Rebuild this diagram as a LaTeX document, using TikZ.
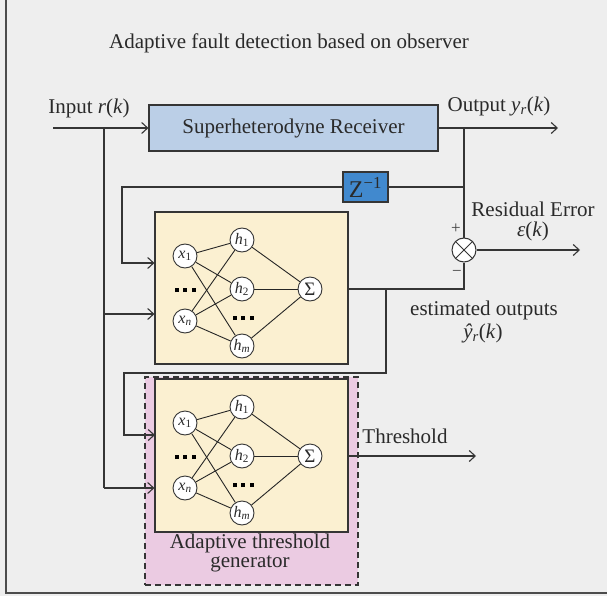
\documentclass[tikz,border=0pt]{standalone}
\usepackage{fontspec}
\setmainfont{Liberation Serif}
\usetikzlibrary{arrows.meta}
\definecolor{bg}{HTML}{EEEEEE}
\definecolor{ln}{HTML}{353535}
\definecolor{rxblue}{HTML}{BBCFE7}
\definecolor{zblue}{HTML}{4189CE}
\definecolor{cream}{HTML}{FBF0D1}
\definecolor{pinkbg}{HTML}{EBCBE2}
\definecolor{txt}{HTML}{2A2A2A}
\newcommand\dotsq{\rule{4pt}{4pt}\hspace{4.5pt}\rule{4pt}{4pt}\hspace{4.5pt}\rule{4pt}{4pt}}
\newcommand\nnet[2]{%
  \node[neu] (#1x1) at (185,{#2+44}) {\textit{x}\textsubscript{1}};
  \node[neu] (#1xn) at (185,{#2+109}) {\textit{x}\textsubscript{\textit{n}}};
  \node[dotsn] (#1d1) at (185,{#2+78}) {\dotsq};
  \node[neu] (#1h1) at (242,{#2+28}) {\textit{h}\textsubscript{1}};
  \node[neu] (#1h2) at (242,{#2+77}) {\textit{h}\textsubscript{2}};
  \node[dotsn] (#1d2) at (243,{#2+106}) {\dotsq};
  \node[neu] (#1hm) at (242,{#2+134}) {\textit{h}\textsubscript{\textit{m}}};
  \node[neu,font=\fontsize{19}{19}\selectfont] (#1s) at (310,{#2+77}) {Σ};
  \foreach \a in {x1,xn}{\foreach \b in {h1,h2,hm}{\draw[edge] (#1\a) -- (#1\b);}}
  \foreach \b in {h1,h2,hm}{\draw[edge] (#1\b) -- (#1s);}
}
\begin{document}
\begin{tikzpicture}[x=1pt,y=-1pt,
  line width=1.1pt, draw=ln,
  every node/.style={text=txt, font=\fontsize{21}{23}\selectfont},
  arr/.style={-{Straight Barb[length=6pt,width=11pt,line width=1.1pt]}},
  neu/.style={circle, draw=ln, fill=white, line width=0.9pt, minimum size=24pt, inner sep=0pt, font=\fontsize{16}{16}\selectfont},
  dotsn/.style={inner sep=0pt, text=black},
  edge/.style={line width=0.9pt, draw=black!85},
  boxs/.style={draw=ln, line width=1.1pt, inner sep=0pt},
  lbl/.style={inner sep=0pt, align=center}]
\useasboundingbox (0,0) rectangle (607,596);
\fill[bg] (0,0) rectangle (607,596);
\draw[line width=1.3pt, draw=black!70] (6,0) -- (6,593) -- (607,593);

% title
\node[lbl] (title) at (289,43) {Adaptive fault detection based on observer};

% receiver
\node[boxs, fill=rxblue, minimum width=289pt, minimum height=46pt] (rx) at (293.5,128) {Superheterodyne Receiver};
\node[lbl] (inlbl) at (89,108) {Input \textit{r}(\textit{k})};
\node[lbl] (outlbl) at (499,106) {Output \textit{y}\textsubscript{\textit{r}}(\textit{k})};

% Z^-1
\node[boxs, fill=zblue, minimum width=45pt, minimum height=30pt, font=\fontsize{24}{24}\selectfont] (zb) at (365.5,187) {Z\textsuperscript{−1}};

% pink generator box
\node[draw=ln, dashed, dash pattern=on 6pt off 4pt, fill=pinkbg, minimum width=213pt, minimum height=208pt, inner sep=0pt] (gen) at (251.5,481) {};
\node[lbl] (genlbl) at (250,553) {Adaptive threshold\\[-4pt]generator};

% NN boxes
\node[boxs, fill=cream, minimum width=193pt, minimum height=152pt] (nn1) at (251.5,288) {};
\node[boxs, fill=cream, minimum width=193pt, minimum height=153pt] (nn2) at (251.5,455.5) {};
\nnet{a}{212}
\nnet{b}{379}

% multiplier
\node[circle, draw=ln, fill=white, line width=1pt, minimum size=24pt, inner sep=0pt] (mul) at (464,250) {};
\draw[line width=1pt] (mul.north east) -- (mul.south west) (mul.north west) -- (mul.south east);
\node[lbl, font=\fontsize{17}{17}\selectfont, text=black!75] (plus) at (456,229) {+};
\node[lbl, font=\fontsize{17}{17}\selectfont, text=black!75] (minus) at (457,273) {−};

% labels
\node[lbl] (reslbl) at (533,221) {Residual Error\\[-3pt]\textit{ε}(\textit{k})};
\node[lbl] (estlbl) at (484,310) {estimated outputs};
\node[lbl] (estlbl2) at (483,333) {\textit{ŷ}\textsubscript{\textit{r}}(\textit{k})};
\node[lbl] (thlbl) at (405,436) {Threshold};

% coordinates
\coordinate (inS) at (53,128);
\coordinate (ib) at (104,128);
\coordinate (i1) at (104,314);
\coordinate (ic) at (104,488);
\coordinate (outE) at (558,128);
\coordinate (ob) at (464,128);
\coordinate (zj) at (464,187);
\coordinate (fb1) at (122,263);
\coordinate (e1) at (464,289);
\coordinate (eb) at (386,289);
\coordinate (t1) at (124,373);
\coordinate (t2) at (155,435);
\coordinate (resE) at (580,250);
\coordinate (thE) at (476,456);

% connectors
\draw[arr] (inS) -- (rx.west);
\draw[arr] (rx.east) -- (outE);
\draw (ob) -- (mul.north);
\draw (zb.east) -- (zj);
\draw[arr] (zb.west) -| (fb1) -- (fb1 -| nn1.west);
\draw (ib) -- (ic);
\draw[arr] (i1) -- (i1 -| nn1.west);
\draw[arr] (ic) -- (ic -| nn2.west);
\draw (nn1.east |- as) -- (e1) -- (mul.south);
\draw[arr] (eb) |- (t1) |- (t2);
\draw[arr] (mul.east) -- (resE);
\draw[arr] (nn2.east |- bs) -- (thE);
\end{tikzpicture}
\end{document}
